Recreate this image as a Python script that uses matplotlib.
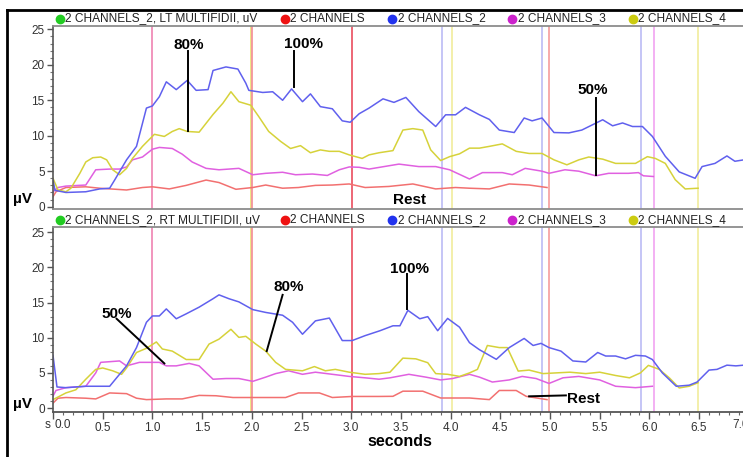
import numpy as np
import matplotlib
matplotlib.use("Agg")
import matplotlib.pyplot as plt
from matplotlib.lines import Line2D
from matplotlib.ticker import MultipleLocator, FixedLocator, FixedFormatter

plt.rcParams['font.family'] = ['Liberation Sans', 'DejaVu Sans']

W, H = 743, 457

# ---- left multifidus (top panel) ----
lt_ch2_t = [0.0, 0.02, 0.13, 0.33, 0.47, 0.57, 0.62, 0.74, 0.84, 0.94, 1.0, 1.07, 1.14, 1.24, 1.35, 1.44,
            1.56, 1.61, 1.74, 1.86, 1.94, 1.97, 2.11, 2.21, 2.31, 2.40, 2.51, 2.59, 2.69, 2.81, 2.91, 2.99,
            3.08, 3.18, 3.32, 3.43, 3.55, 3.68, 3.85, 3.95, 4.05, 4.15, 4.29, 4.39, 4.49, 4.64, 4.74, 4.82,
            4.92, 5.04, 5.19, 5.32, 5.53, 5.63, 5.73, 5.83, 5.93, 6.03, 6.16, 6.30, 6.46, 6.53, 6.66, 6.78,
            6.86, 6.95]
lt_ch2_v = [3.8, 2.3, 2.0, 2.1, 2.5, 2.6, 3.75, 6.6, 8.5, 13.9, 14.2, 15.5, 17.6, 16.5, 17.8, 16.4,
            16.5, 19.2, 19.7, 19.4, 17.4, 16.4, 16.1, 16.2, 15.0, 16.6, 14.8, 15.9, 14.1, 13.8, 12.1, 11.9,
            13.1, 13.9, 15.2, 14.7, 15.4, 13.4, 11.3, 12.95, 12.95, 14.0, 12.95, 12.3, 10.8, 10.45, 12.5, 12.1,
            12.5, 10.45, 10.4, 10.8, 12.25, 11.4, 11.8, 11.3, 11.3, 9.9, 7.1, 4.9, 4.0, 5.65, 6.1, 7.15,
            6.4, 6.6]

lt_ch4_t = [0.0, 0.05, 0.13, 0.18, 0.27, 0.33, 0.40, 0.48, 0.54, 0.60, 0.67, 0.74, 0.80, 0.90, 1.02, 1.12,
            1.20, 1.27, 1.35, 1.47, 1.61, 1.71, 1.79, 1.87, 1.99, 2.07, 2.17, 2.29, 2.39, 2.49, 2.59, 2.69,
            2.78, 2.88, 2.98, 3.11, 3.18, 3.28, 3.42, 3.52, 3.62, 3.72, 3.80, 3.90, 3.99, 4.09, 4.19, 4.29,
            4.39, 4.52, 4.66, 4.79, 4.92, 5.04, 5.17, 5.29, 5.39, 5.53, 5.66, 5.86, 5.98, 6.06, 6.16, 6.26,
            6.36, 6.49]
lt_ch4_v = [4.0, 2.35, 2.1, 2.6, 4.7, 6.3, 6.9, 7.0, 6.6, 5.2, 4.5, 5.4, 6.8, 8.5, 10.2, 9.9,
            10.6, 11.0, 10.6, 10.5, 13.0, 14.6, 16.2, 14.8, 14.3, 12.7, 10.6, 9.2, 8.2, 8.6, 7.6, 8.0,
            7.8, 7.8, 7.3, 6.8, 7.3, 7.6, 7.9, 10.8, 11.0, 10.8, 8.0, 6.5, 7.05, 7.45, 8.25, 8.25,
            8.5, 8.85, 7.8, 7.5, 7.5, 6.6, 5.9, 6.6, 7.0, 6.7, 6.1, 6.1, 7.05, 6.8, 6.1, 3.8,
            2.5, 2.6]

lt_ch3_t = [0.0, 0.05, 0.13, 0.33, 0.43, 0.57, 0.67, 0.74, 0.80, 0.90, 1.0, 1.07, 1.20, 1.30, 1.40, 1.54,
            1.67, 1.87, 2.01, 2.14, 2.31, 2.44, 2.61, 2.76, 2.88, 2.98, 3.08, 3.18, 3.48, 3.68, 3.85, 3.99,
            4.19, 4.32, 4.52, 4.62, 4.75, 4.92, 4.99, 5.15, 5.29, 5.46, 5.59, 5.79, 5.89, 5.94, 6.04]
lt_ch3_v = [2.1, 2.7, 2.9, 3.05, 5.2, 5.3, 5.3, 5.6, 6.6, 7.0, 8.1, 8.35, 8.2, 7.4, 6.3, 5.4,
            5.2, 5.4, 4.5, 4.7, 4.85, 4.5, 4.6, 4.4, 5.2, 5.6, 5.55, 5.3, 6.0, 5.65, 5.65, 5.2,
            3.9, 4.8, 4.8, 4.5, 5.4, 5.0, 4.7, 5.2, 5.0, 4.35, 4.7, 4.7, 4.8, 4.35, 4.25]

lt_ch1_t = [0.0, 0.03, 0.13, 0.33, 0.47, 0.74, 0.90, 1.0, 1.17, 1.34, 1.54, 1.67, 1.84, 2.01, 2.14,
            2.31, 2.47, 2.64, 2.81, 2.98, 3.14, 3.38, 3.62, 3.85, 4.05, 4.19, 4.39, 4.59, 4.79, 4.97]
lt_ch1_v = [1.4, 2.1, 2.7, 2.8, 2.6, 2.35, 2.7, 2.8, 2.5, 3.0, 3.75, 3.4, 2.45, 2.7, 3.05,
            2.6, 2.7, 3.0, 3.05, 3.2, 2.7, 2.85, 3.2, 2.5, 2.7, 2.6, 2.5, 3.2, 3.05, 2.7]

# ---- right multifidus (bottom panel) ----
rt_ch2_t = [0.0, 0.04, 0.13, 0.33, 0.47, 0.57, 0.64, 0.74, 0.84, 0.94, 1.0, 1.07, 1.14, 1.24, 1.34, 1.47,
            1.61, 1.67, 1.77, 1.87, 2.01, 2.14, 2.31, 2.41, 2.51, 2.64, 2.78, 2.91, 3.01, 3.14, 3.29, 3.42,
            3.49, 3.57, 3.69, 3.77, 3.87, 3.97, 4.09, 4.19, 4.29, 4.46, 4.59, 4.74, 4.83, 4.91, 4.99, 5.11,
            5.23, 5.36, 5.48, 5.56, 5.66, 5.76, 5.86, 5.96, 6.03, 6.13, 6.27, 6.40, 6.48, 6.60, 6.68, 6.78,
            6.87, 6.95]
rt_ch2_v = [7.5, 3.0, 2.9, 3.1, 3.1, 3.1, 4.3, 6.0, 8.6, 12.2, 13.1, 13.1, 14.1, 12.7, 13.4, 14.35,
            15.55, 16.1, 15.55, 15.1, 14.0, 13.6, 13.2, 12.2, 10.5, 12.4, 12.8, 9.6, 9.6, 10.3, 11.0, 11.7,
            11.7, 13.9, 12.7, 13.0, 11.0, 12.75, 11.5, 9.3, 8.3, 6.93, 8.6, 9.9, 8.9, 9.2, 8.6, 8.1,
            6.7, 6.55, 7.9, 7.4, 7.4, 7.0, 7.5, 7.4, 6.9, 5.0, 3.1, 3.25, 3.7, 5.4, 5.5, 6.1,
            6.0, 6.1]

rt_ch4_t = [0.0, 0.13, 0.23, 0.33, 0.43, 0.50, 0.60, 0.69, 0.74, 0.84, 0.94, 1.04, 1.10, 1.20, 1.34,
            1.47, 1.57, 1.67, 1.79, 1.87, 1.94, 2.04, 2.14, 2.24, 2.34, 2.51, 2.63, 2.74, 2.84, 2.98,
            3.14, 3.28, 3.39, 3.52, 3.65, 3.77, 3.85, 3.97, 4.09, 4.19, 4.27, 4.37, 4.49, 4.57, 4.68,
            4.79, 4.93, 5.06, 5.20, 5.36, 5.50, 5.66, 5.80, 5.91, 5.99, 6.10, 6.20, 6.30, 6.40, 6.49]
rt_ch4_v = [1.2, 2.15, 2.6, 4.1, 5.5, 5.7, 5.3, 4.8, 5.7, 7.9, 8.5, 9.4, 8.4, 8.1, 6.9,
            6.9, 9.1, 9.8, 11.2, 10.05, 10.2, 9.1, 8.1, 6.5, 5.5, 5.3, 5.9, 5.3, 5.5, 5.1,
            4.8, 4.9, 5.1, 7.1, 7.0, 6.45, 4.9, 4.8, 4.5, 5.0, 5.5, 8.9, 8.6, 8.6, 5.26,
            5.4, 4.9, 5.0, 5.1, 4.9, 5.1, 4.63, 4.3, 5.0, 6.07, 5.5, 4.3, 2.86, 3.1, 3.6]

rt_ch3_t = [0.0, 0.03, 0.13, 0.33, 0.43, 0.48, 0.67, 0.74, 0.87, 1.07, 1.14, 1.24, 1.37, 1.47, 1.61,
            1.74, 1.87, 2.01, 2.14, 2.24, 2.37, 2.51, 2.64, 2.81, 2.98, 3.14, 3.28, 3.39, 3.58, 3.75,
            3.90, 4.02, 4.19, 4.29, 4.42, 4.59, 4.72, 4.86, 4.99, 5.13, 5.29, 5.50, 5.66, 5.86, 6.03]
rt_ch3_v = [1.7, 2.5, 2.9, 3.1, 5.0, 6.5, 6.7, 6.0, 6.5, 6.5, 6.0, 6.0, 6.35, 6.0, 4.1,
            4.2, 4.2, 3.8, 4.4, 4.9, 5.3, 4.8, 5.1, 4.8, 4.5, 4.3, 4.1, 4.3, 4.8, 4.4,
            4.0, 4.2, 4.8, 4.4, 3.7, 4.0, 4.5, 4.2, 3.5, 4.3, 4.5, 4.0, 3.1, 2.9, 3.1]

rt_ch1_t = [0.0, 0.05, 0.13, 0.33, 0.43, 0.57, 0.74, 0.84, 0.94, 1.14, 1.30, 1.47, 1.64, 1.81, 2.01, 2.21,
            2.34, 2.47, 2.68, 2.81, 3.01, 3.28, 3.42, 3.52, 3.72, 3.90, 4.19, 4.39, 4.49, 4.66, 4.76, 4.97]
rt_ch1_v = [0.7, 1.4, 1.5, 1.4, 1.3, 2.15, 2.05, 1.4, 1.2, 1.3, 1.3, 1.8, 1.75, 1.5, 1.5, 1.5,
            1.5, 2.15, 2.15, 1.5, 1.65, 1.65, 1.67, 2.4, 2.4, 1.43, 1.43, 1.2, 2.5, 2.5, 1.67, 1.2]

# event markers (time, colour)
marker_t = [0.995, 1.99, 2.007, 3.005, 3.91, 4.01, 4.92, 4.99, 5.92, 6.05, 6.49]
marker_c = ['#f08cb8', '#ece47a', '#f4949c', '#ec5a6a', '#c0c0f6', '#f2eea4', '#c0c0f6',
            '#f6a4a4', '#c0c0f6', '#f2aaf2', '#f2eea4']

legend_labels = ['2 CHANNELS', '2 CHANNELS_2', '2 CHANNELS_3', '2 CHANNELS_4']
legend_x = [285, 392, 512, 633]
dot_colors = ['#ee1111', '#2233ee', '#cc22cc', '#cccc11']

line_colors = {'ch1': '#f27070', 'ch2': '#6060ee', 'ch3': '#e060e0', 'ch4': '#d6d23a'}

# inner tick labels; the two end labels are nudged inward and drawn separately
x_ticks = [0.5, 1.0, 1.5, 2.0, 2.5, 3.0, 3.5, 4.0, 4.5, 5.0, 5.5, 6.0, 6.5]

# annotations: (label, text x, text y, line x0, y0, x1, y1)
top_notes = [('80%', 1.37, 22.8, 1.36, 22.0, 1.36, 10.6),
             ('100%', 2.52, 23.0, 2.42, 22.0, 2.42, 16.8),
             ('50%', 5.43, 16.4, 5.46, 15.3, 5.46, 4.5),
             ('Rest', 3.59, 1.0, None, None, None, None)]
bot_notes = [('50%', 0.64, 13.4, 0.64, 12.7, 1.12, 6.35),
             ('80%', 2.37, 17.2, 2.31, 16.1, 2.15, 8.1),
             ('100%', 3.59, 19.8, 3.56, 19.0, 3.56, 14.1),
             ('Rest', 5.34, 1.34, 5.16, 1.8, 4.79, 1.67)]


def rect(x0, y0, x1, y1):
    # pixel box -> figure fraction [left, bottom, width, height]
    return [x0 / W, 1 - y1 / H, (x1 - x0) / W, (y1 - y0) / H]


def fpt(x, y):
    return x / W, 1 - y / H


fig = plt.figure(figsize=(W / 100, H / 100), dpi=100)
fig.patch.set_facecolor('white')

x_right = 53 + 7.15 * 99.4
ax_top = fig.add_axes(rect(53, 26, x_right, 209))
ax_bot = fig.add_axes(rect(53, 227, x_right, 411.5))


def style_axis(ax, ylim, show_x):
    ax.set_xlim(0, 7.15)
    ax.set_ylim(*ylim)
    ax.spines['right'].set_visible(False)
    ax.spines['top'].set_color('#8c8c8c')
    ax.spines['top'].set_linewidth(1.3)
    ax.spines['left'].set_color('#555555')
    ax.spines['left'].set_linewidth(1.2)
    ax.spines['bottom'].set_color('#555555' if show_x else '#8c8c8c')
    ax.spines['bottom'].set_linewidth(1.3)
    ax.yaxis.set_major_locator(MultipleLocator(5))
    ax.yaxis.set_minor_locator(MultipleLocator(1))
    ax.tick_params(axis='y', which='major', direction='out', length=4, width=1,
                   color='#555555', labelsize=8.5, labelcolor='#333333', pad=2)
    ax.tick_params(axis='y', which='minor', direction='out', length=2, width=0.8, color='#777777')
    if show_x:
        ax.xaxis.set_major_locator(FixedLocator([0.0] + x_ticks + [7.0]))
        ax.xaxis.set_major_formatter(FixedFormatter([''] + [f'{t:.1f}' for t in x_ticks] + ['']))
        ax.xaxis.set_minor_locator(MultipleLocator(0.1))
        ax.tick_params(axis='x', which='major', direction='out', length=5, width=1,
                       color='#555555', labelsize=8.5, labelcolor='#333333', pad=2.5)
        ax.tick_params(axis='x', which='minor', direction='out', length=2.5, width=0.8, color='#666666')
    else:
        ax.set_xticks([])
        ax.xaxis.set_minor_locator(matplotlib.ticker.NullLocator())


def draw_panel(ax, series, notes):
    for t, c in zip(marker_t, marker_c):
        ax.axvline(t, color=c, lw=1.3, zorder=1)
    for key, (t, v) in series.items():
        ax.plot(t, v, color=line_colors[key], lw=1.1, zorder=2)
    for lab, tx, ty, x0, y0, x1, y1 in notes:
        ax.text(tx, ty, lab, ha='center', va='center', fontsize=11, fontweight='bold', zorder=4)
        if x0 is not None:
            ax.plot([x0, x1], [y0, y1], color='black', lw=1.4, zorder=3)


style_axis(ax_top, (-0.33, 25.47), False)
style_axis(ax_bot, (-0.49, 25.75), True)

draw_panel(ax_top, {'ch1': (lt_ch1_t, lt_ch1_v), 'ch3': (lt_ch3_t, lt_ch3_v),
                    'ch4': (lt_ch4_t, lt_ch4_v), 'ch2': (lt_ch2_t, lt_ch2_v)}, top_notes)
draw_panel(ax_bot, {'ch1': (rt_ch1_t, rt_ch1_v), 'ch3': (rt_ch3_t, rt_ch3_v),
                    'ch4': (rt_ch4_t, rt_ch4_v), 'ch2': (rt_ch2_t, rt_ch2_v)}, bot_notes)

# channel headers above each panel
for y_hdr, side in [(18.5, 'LT'), (220, 'RT')]:
    fig.add_artist(Line2D([fpt(59.5, 0)[0]], [fpt(0, y_hdr)[1]], marker='o', ms=6,
                          color='#22cc22', transform=fig.transFigure))
    fig.text(*fpt(65, y_hdr), f'2 CHANNELS_2, {side} MULTIFIDII, uV', fontsize=8.6,
             va='center', ha='left', color='#222222')
    for lx, lab, col in zip(legend_x, legend_labels, dot_colors):
        fig.add_artist(Line2D([fpt(lx, 0)[0]], [fpt(0, y_hdr)[1]], marker='o', ms=6,
                              color=col, transform=fig.transFigure))
        fig.text(*fpt(lx + 5.5, y_hdr), lab, fontsize=8.6, va='center', ha='left', color='#222222')

# unit labels and end tick labels
fig.text(*fpt(22, 199), 'µV', fontsize=11, fontweight='bold', ha='center', va='center')
fig.text(*fpt(22, 404), 'µV', fontsize=11, fontweight='bold', ha='center', va='center')
fig.text(*fpt(47.5, 425), 's', fontsize=8.5, ha='center', va='center', color='#333333')
fig.text(*fpt(63, 425), '0.0', fontsize=8.5, ha='center', va='center', color='#333333')
fig.text(*fpt(732, 425), '7.0', fontsize=8.5, ha='left', va='center', color='#333333')
fig.text(*fpt(400, 442), 'seconds', fontsize=11.5, fontweight='bold', ha='center', va='center')

# outer frame
fig.add_artist(Line2D([7.5 / W, 1], [1 - 10 / H, 1 - 10 / H], color='black', lw=2,
                      transform=fig.transFigure))
fig.add_artist(Line2D([7.5 / W, 7.5 / W], [0, 1 - 10 / H], color='black', lw=2,
                      transform=fig.transFigure))

fig.savefig('out.png', dpi=100)
